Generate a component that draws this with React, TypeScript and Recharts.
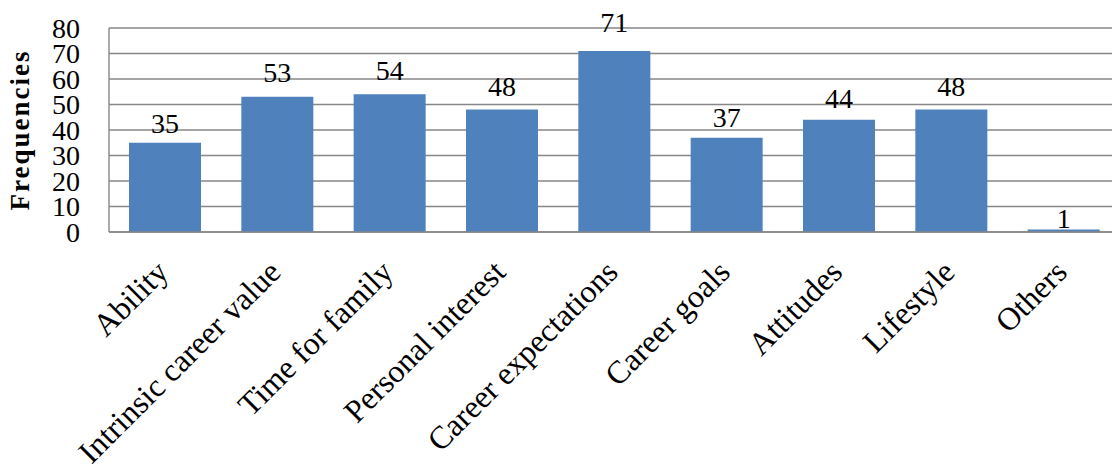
import React from 'react';
import { BarChart, Bar, XAxis, YAxis, CartesianGrid, LabelList, Label } from 'recharts';

// Reasons given, with how many respondents named each
const categories = [
  'Ability',
  'Intrinsic career value',
  'Time for family',
  'Personal interest',
  'Career expectations',
  'Career goals',
  'Attitudes',
  'Lifestyle',
  'Others',
];
const frequencies = [35, 53, 54, 48, 71, 37, 44, 48, 1];
const yTicks = [0, 10, 20, 30, 40, 50, 60, 70, 80];
const yTitle = 'Frequencies';

const data = categories.map((name, i) => ({ name, value: frequencies[i] }));

const FONT = '"Liberation Serif", "Times New Roman", serif';
const GRID = '#878787';
const BAR = '#4F81BD';

const CategoryTick = (props: any) => {
  const { x, y, payload } = props;
  return (
    <g transform={`translate(${x},${y})`}>
      <text
        x={5}
        y={42}
        transform="rotate(-45, 5, 42)"
        textAnchor="end"
        fontFamily={FONT}
        fontSize={32}
        fill="#000"
      >
        {payload.value}
      </text>
    </g>
  );
};

const ValueLabel = (props: any) => {
  const { x, y, width, height, value } = props;
  return (
    <text
      x={Number(x) + Number(width) / 2}
      y={Number(y) - 1 - Number(height) * 0.1}
      textAnchor="middle"
      fontFamily={FONT}
      fontSize={28}
      fill="#000"
    >
      {value}
    </text>
  );
};

const YTitle = (props: any) => {
  const { viewBox } = props;
  const cx = viewBox.x + 29;
  const cy = viewBox.y + viewBox.height / 2;
  return (
    <text
      x={cx}
      y={cy}
      transform={`rotate(-90, ${cx}, ${cy})`}
      textAnchor="middle"
      fontFamily={FONT}
      fontWeight="bold"
      fontSize={27}
      letterSpacing={2}
      fill="#000"
    >
      {yTitle}
    </text>
  );
};

export default function App() {
  return (
    <div
      style={{
        position: 'absolute',
        left: 0,
        top: 0,
        width: 1112,
        height: 464,
        overflow: 'hidden',
        background: '#fff',
      }}
    >
      <BarChart
        width={1125}
        height={464}
        data={data}
        margin={{ top: 28, right: 5, bottom: 0, left: 0 }}
      >
        <CartesianGrid horizontal vertical={false} stroke={GRID} strokeWidth={1.4} />
        <XAxis
          dataKey="name"
          height={232}
          interval={0}
          tickLine={false}
          tickSize={0}
          tickMargin={0}
          axisLine={{ stroke: GRID, strokeWidth: 1.4 }}
          tick={<CategoryTick />}
        />
        <YAxis
          width={109}
          domain={[0, 80]}
          ticks={yTicks}
          interval={0}
          tickLine={false}
          tickSize={0}
          tickMargin={29}
          axisLine={{ stroke: GRID, strokeWidth: 1.4 }}
          tick={{ fontFamily: FONT, fontSize: 28, fill: '#000' }}
        >
          <Label content={<YTitle />} />
        </YAxis>
        <Bar dataKey="value" fill={BAR} barSize={72} isAnimationActive={false}>
          <LabelList dataKey="value" content={<ValueLabel />} />
        </Bar>
      </BarChart>
    </div>
  );
}
